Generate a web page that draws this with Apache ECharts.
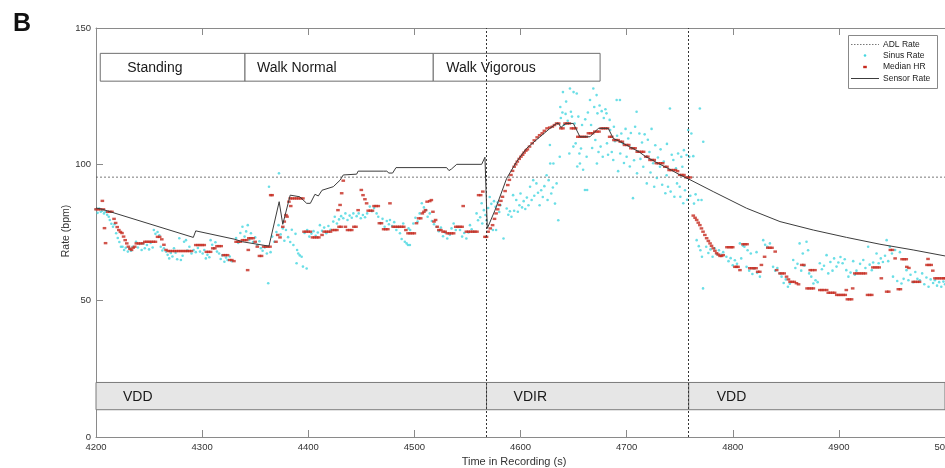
<!DOCTYPE html>
<html><head><meta charset="utf-8">
<script src="https://cdn.jsdelivr.net/npm/echarts@6/dist/echarts.min.js"></script>
<style>html,body{margin:0;padding:0;background:#fff}#c{width:945px;height:468px}</style>
</head><body><div id="c"></div>
<script>
// ---------- DATA ----------
const sensorRate = [[4200,84],[4206,83.5],[4291.7,73.2],[4294,75.6],[4331,72.5],[4338,71.6],[4363,70.0],[4372.6,86.3],[4376,78],[4383,88.7],[4392,88.1],[4398.5,85.7],[4402,85.7],[4406.3,89],[4409.5,88.4],[4413,90.5],[4423.6,91.8],[4430,94.2],[4433,96.1],[4445.6,96.4],[4447,97.5],[4470.7,97.5],[4472.5,96.8],[4474,97.5],[4476,96.8],[4477.5,97.5],[4479.5,96.8],[4482.7,98.8],[4530.4,98.8],[4532.6,97.7],[4535,98.3],[4539.9,100],[4563.4,100],[4566.5,102.6],[4568.7,76.5],[4576,83.2],[4587,94.9],[4596.4,101],[4605.8,105.9],[4618.4,110.1],[4627.8,113.2],[4634,115],[4636,115],[4638,113.5],[4641,114.5],[4643,115],[4649.8,115],[4656,110.1],[4665.5,110.1],[4673.3,113.2],[4682.7,113.2],[4687.4,109.5],[4694,108.3],[4700,107],[4706,105.8],[4712,104.5],[4718,102.8],[4724,101.6],[4730,100.3],[4736,99.1],[4742,97.9],[4750.3,96.1],[4758.5,94.6],[4781.6,90],[4813,83.9],[4844.5,79],[4875.9,75.9],[4907.3,73.2],[4938.7,70.7],[4970,68.6],[5000,66.4]];

const sinusRate = [[4200,83.5],[4201.5,82.2],[4203,83.8],[4204.5,82.6],[4206,83],[4207.5,82],[4209,82.6],[4210.5,81.5],[4212,80.8],[4213,79.6],[4214.5,78.2],[4216,77.1],[4217.5,78],[4219,74.7],[4220.5,73],[4222,71.5],[4223.5,69.8],[4225,69.8],[4226.5,68.6],[4228,69.4],[4230,68],[4231.5,69.2],[4233,68.3],[4234.5,69.8],[4237.7,71.6],[4239.5,69.5],[4241,70.8],[4243,68.6],[4244.5,71],[4246,69.2],[4248,70.4],[4250,68.8],[4251.5,71.2],[4253.4,69.5],[4254.5,75.9],[4256,74.5],[4258,75.2],[4259.7,74],[4261,69.8],[4262.5,68.4],[4264,69.2],[4266,68],[4267.5,66.8],[4269,65.5],[4270.5,67.5],[4272,66.2],[4273.5,69.2],[4275,67.6],[4276.5,65.2],[4278.5,72.9],[4280,64.9],[4281.6,66.5],[4283,71.6],[4284.8,72.2],[4286,68.4],[4288,69.8],[4290,67.3],[4292,68.6],[4294,67.8],[4296,69.3],[4298,68],[4300.5,67.3],[4302,68.6],[4303.5,65.5],[4305,66.8],[4306.8,65.9],[4308,72.2],[4309.5,70.5],[4311,69.2],[4312.5,71.4],[4314,68],[4316,67.3],[4317.5,65.3],[4319,66.6],[4321,64.3],[4322.5,65.8],[4324,64.9],[4326,66.2],[4328,64.5],[4332,73],[4334,71.2],[4336,74.8],[4338,77.1],[4340,73.5],[4341.5,75.4],[4343,77.7],[4344.5,72.3],[4346,74.7],[4348,71.5],[4350,73.2],[4352,70.4],[4354,71.8],[4355.4,69.2],[4357,68.3],[4359,69.5],[4361,67.3],[4362.3,56.4],[4363,91.8],[4364.5,67.8],[4366,73.5],[4368,71.6],[4370,75.2],[4372,77.7],[4372.4,96.7],[4374,74.3],[4376,76.5],[4377.5,72],[4379,75.9],[4381,73.3],[4383,71.5],[4384.5,76],[4386,70.4],[4388,74.5],[4389,63.7],[4389.5,68.6],[4390.6,67.3],[4392,66.6],[4393.8,66.1],[4395,62.5],[4396.5,74.8],[4398.5,61.8],[4399,75.9],[4401,73.5],[4403,74.6],[4405,75.5],[4407,73.8],[4409,75],[4411,77.7],[4413,75.6],[4415,76.8],[4417,74.7],[4419,77.4],[4421,76],[4423.6,79],[4425,80.8],[4427,78.3],[4429,79.8],[4431,81],[4433,80.2],[4435,82],[4437,79.6],[4439,81.2],[4441,80.4],[4442.5,82],[4445.6,81],[4447.5,82],[4449.5,80.2],[4451.5,81.4],[4453.5,80.6],[4455.5,82],[4458,84.5],[4460,82.8],[4462,84],[4464.4,82],[4466,80.8],[4468,78.5],[4470,80],[4472,77.1],[4474,79.2],[4476,78],[4477,79.6],[4479,77.4],[4481,78.8],[4483,75.9],[4485,77],[4486.4,74.7],[4488,72.6],[4489.5,78.3],[4491,71.6],[4492.7,71],[4494,70.4],[4494.5,76.5],[4495.8,70.4],[4496,75.9],[4499,78.3],[4501,80.4],[4503,79],[4505,82],[4507,85.7],[4509,84.2],[4511,83.2],[4512.5,80.8],[4514.5,82],[4516.5,79.2],[4518.5,78],[4521,77.1],[4523,75.5],[4525,76.8],[4527,73.6],[4529,75],[4531,72.8],[4533.5,74.2],[4535,76.5],[4537,78.3],[4539,75.9],[4541,77],[4543,75.9],[4545,73.5],[4547,74.8],[4549,72.8],[4551,75],[4552.4,77.7],[4554,76.2],[4556,75.3],[4558.6,82],[4560,79.5],[4562,80.6],[4563.4,85.7],[4564,78.3],[4565.5,83.2],[4567,81.4],[4568,79.5],[4569.5,84],[4571,88],[4572.5,85.5],[4574,75.9],[4575,86.5],[4576.5,84.4],[4577,75.9],[4578.5,86],[4580,82.5],[4581,85],[4584,72.8],[4587,83.8],[4588.5,81.5],[4590,82.8],[4591.5,80.8],[4593,88.7],[4594,83],[4596,86.9],[4597.5,82.6],[4599,85],[4600,89.3],[4601.5,84.2],[4603,86.5],[4604.5,83.6],[4606,87.8],[4607.5,85],[4609,91.8],[4610.5,86.9],[4612,94.2],[4613,88.5],[4615,93],[4616.5,89.6],[4618,85],[4619.5,90.5],[4621,88],[4622.5,92],[4624.6,96],[4625.5,86.9],[4626.5,94.2],[4627.7,107.1],[4628,100.3],[4629,89.3],[4630.5,91.5],[4631,100.3],[4632.5,85.6],[4634,93],[4635.6,79.5],[4637,102.8],[4637.5,121],[4638,117],[4639.5,119],[4640,126.5],[4641,114.4],[4642.5,118.5],[4643,123],[4644.5,116],[4646.6,127.8],[4646,104],[4647.5,119.3],[4648.5,117.5],[4649.8,106.5],[4650,126.5],[4651,115],[4652,107.7],[4653,126],[4653.5,99.2],[4654.5,117.5],[4655.5,104],[4656,100.3],[4657,105.8],[4658,114.4],[4659,98],[4660.7,90.6],[4661,116.5],[4662.3,102.8],[4662.8,90.6],[4663.5,119],[4665.5,123.6],[4666.5,114.4],[4667.5,106],[4668.6,127.8],[4669.5,121],[4670.5,108.9],[4671.7,125.4],[4672,100.3],[4672.5,118.7],[4673.5,104.5],[4674.5,121.6],[4675.5,106.5],[4676.5,119.5],[4677.5,102.8],[4678.5,117],[4680,120.2],[4681,118.7],[4681.5,107.7],[4682.5,103.5],[4684,116.3],[4684.5,112.6],[4686,104.5],[4687.4,101.6],[4688,113.8],[4689,108.5],[4690.6,123.6],[4691,110.5],[4692,97.5],[4693.7,123.6],[4694,104],[4695,111.3],[4696.5,107.7],[4697.5,100.5],[4699,113],[4700,102.8],[4701.5,109.5],[4703,99.2],[4704,111.5],[4705,106],[4706,87.6],[4707,101.5],[4708,113.8],[4709.4,119.3],[4709.8,96.7],[4710.5,104.8],[4712,111.3],[4713,102],[4714.5,108],[4715.7,99.1],[4717,111],[4718.8,102.8],[4719,93],[4720,109],[4721.5,104.5],[4722.5,97],[4723.5,113],[4725,100.4],[4726,91.8],[4727,107],[4728.5,95],[4729.5,102.5],[4731.4,99.1],[4732,105.5],[4733.5,92.5],[4735,101],[4736.5,89.4],[4737.7,96],[4738,107.5],[4739,91.8],[4740.8,120.5],[4741.5,90],[4742.5,103.5],[4744,101.6],[4745,88.1],[4746.5,98.5],[4747.5,93],[4748.5,104],[4750,91.8],[4750.6,88.1],[4751.5,102.8],[4752.5,99.1],[4753.4,85.7],[4754,105.2],[4755,90.5],[4756.5,103.4],[4757,87],[4758,112.6],[4759,102.8],[4760,88.5],[4761,111.3],[4762.8,103],[4763.5,85.6],[4765,89],[4766,72.2],[4767.5,86.9],[4768,70],[4769,120.5],[4769.5,68.5],[4770.6,86.9],[4771,66.1],[4772,54.5],[4772.2,108.3],[4775,69.8],[4777,67.5],[4779,68.8],[4781,66.1],[4783,69.2],[4785,67],[4787,68.5],[4789,66.8],[4791,67.8],[4794,66.1],[4796,64.5],[4798,65.6],[4800,63],[4802,64.8],[4804,63.5],[4806.7,71],[4808,65.5],[4809.5,70.2],[4811,69.8],[4813,62.4],[4814,68.5],[4815.5,61],[4817,67.3],[4818.5,59.8],[4820,61.8],[4822.4,67.8],[4823,60.2],[4825.6,58.8],[4828.7,72.2],[4830.5,70.5],[4832.5,69.8],[4835,71],[4838,62.4],[4840,61],[4842,62],[4844.4,60],[4846,58.8],[4848,56.5],[4850,57.8],[4852,55.1],[4853.8,56.2],[4857,64.9],[4859,62],[4861,63.5],[4863,71],[4864.5,61],[4866,67.3],[4867.5,62.8],[4869.5,71.6],[4871,68.5],[4872,60],[4874,58.8],[4876,56.3],[4878,57.5],[4880,56.8],[4882,63.7],[4884,61.5],[4886,62.8],[4888.4,66.7],[4890,60],[4892,64.2],[4894,61],[4895.5,65.5],[4897.8,62.5],[4899.5,64],[4901.5,66],[4903.5,63.7],[4905.5,65.2],[4907,61.2],[4909,58.8],[4911,60.3],[4913.5,64.5],[4915,59.5],[4916.6,61],[4920,63.5],[4923,64.9],[4925,62],[4927.6,69.8],[4929,63.2],[4931,61.2],[4932.3,64],[4935.5,67.3],[4937.5,63.7],[4939.5,65.5],[4941.5,64.2],[4943.5,66.5],[4945,72.2],[4946.5,64.5],[4948,69.8],[4950,67.3],[4951,58.8],[4953,68.6],[4955,57.2],[4957.5,67.8],[4959,56.3],[4961,58],[4963.7,61.2],[4965.5,57.5],[4967.5,59.5],[4970,56.8],[4972,60.5],[4974,58],[4976.3,57.5],[4978.5,60],[4980.5,56],[4982.5,58.5],[4984.5,55.1],[4986.5,57.8],[4988.8,56.5],[4990.5,57.5],[4992.5,55.5],[4994.5,56.8],[4996.5,55.1],[4998.5,57],[5000,56]];

const medianHR = [[4200,83.5],[4202,83.5],[4204,83.5],[4206,86.6],[4207,83.5],[4208,76.6],[4209,71.1],[4211,82.6],[4213,82.6],[4215,82.6],[4217,80],[4218.5,78.5],[4220,77],[4221.5,75.9],[4223,75.2],[4224.5,74.8],[4226,73.5],[4227.5,72.2],[4229,71],[4230.5,69.8],[4232,69],[4233.5,68.6],[4235,69.4],[4236.5,69.8],[4238,71],[4240,71],[4242,71],[4244,71],[4246,71.6],[4248,71.6],[4250,71.6],[4252,71.6],[4254,71.6],[4256,71.6],[4258,73.4],[4260,73.4],[4262,72.5],[4264,70.5],[4266,68.6],[4268,68.2],[4270,68.2],[4272,68.2],[4274,68.2],[4276,68.2],[4278,68.2],[4280,68.2],[4282,68.2],[4284,68.2],[4286,68.2],[4288,68.2],[4290,68.2],[4294,70.4],[4296,70.4],[4298,70.4],[4300,70.4],[4302,70.4],[4304,67.9],[4306,67.9],[4308,67.9],[4310,69.2],[4312,69.2],[4314,70],[4316,70],[4318,70],[4320,66.7],[4322,66.7],[4324,66.7],[4326,64.9],[4328,64.9],[4330,64.5],[4332,71.6],[4334,71.6],[4336,71.6],[4338,72.2],[4340,72.2],[4342,72.2],[4342.9,61.2],[4343.5,68.6],[4344,72.9],[4346,72.9],[4348,72.9],[4350,71.6],[4352,69.8],[4354,66.4],[4356,66.4],[4358,69.8],[4360,69.8],[4362,69.8],[4364,69.8],[4364.6,88.7],[4366,88.7],[4369.6,71.6],[4371.2,74.1],[4373.4,73.2],[4376,77.1],[4377.4,79],[4379,81.4],[4380,80.8],[4381.8,86.3],[4383,87.5],[4383.5,84.7],[4385,87.5],[4387,87.5],[4389,87.5],[4391,87.5],[4393,87.5],[4395,87.5],[4396,75.3],[4398,75.3],[4400,75.3],[4402,75.3],[4404,73.2],[4406,73.2],[4408,73.2],[4410,73.2],[4413,74.1],[4415,75.3],[4417,75.3],[4419,75.3],[4421,75.3],[4423,75.9],[4425,75.9],[4427,75.9],[4428,83.2],[4429,77.1],[4430,85.1],[4431,77.1],[4431.5,89.4],[4433,94],[4435,77.1],[4437,75.9],[4439,75.9],[4441,75.9],[4443,77.1],[4445,77.1],[4447,83.2],[4450,90.6],[4451.6,88.7],[4453.4,87.2],[4455,85.7],[4456.5,83],[4458.5,83],[4460.5,83],[4462,84.7],[4464,84.7],[4466,84.7],[4467,78.4],[4469,78.4],[4471,76.2],[4473,76.2],[4475,76.2],[4477,85.7],[4480,77.1],[4482,77.1],[4484,77.1],[4486,77.1],[4488,77.1],[4490,77.1],[4492,75.9],[4494,74.7],[4496,74.7],[4498,74.7],[4500,74.7],[4502,78.4],[4504,80.2],[4506,80.2],[4507.5,82],[4509,82.6],[4510.5,83.2],[4512,86.3],[4514.5,86.5],[4516,86.9],[4517.5,82.6],[4518.5,79],[4520,79.6],[4521.5,77.1],[4523,75.9],[4525,75.9],[4527,75.3],[4529,75.3],[4531,74.7],[4533,74.7],[4535,74.7],[4537,74.7],[4539,77.1],[4541,77.1],[4543,77.1],[4545,77.1],[4546,84.7],[4549,75.3],[4551,75.3],[4553,75.3],[4555,75.3],[4557,75.3],[4559,75.3],[4560.5,88.7],[4562.5,88.7],[4564.5,90],[4566.5,73.4],[4568,73.4],[4569.5,75.3],[4571.5,76.5],[4573.7,77.7],[4575.5,80],[4577,82],[4578.5,83.5],[4580,85.1],[4581.5,86.6],[4583,88.1],[4585.5,90.2],[4588,92.4],[4589.5,94.3],[4591,96.1],[4592.5,97.6],[4594,99.1],[4595.5,100],[4597,101],[4598.8,102],[4600.4,102.8],[4602,103.5],[4603.4,104.3],[4605,105],[4606.5,105.5],[4608.5,106.5],[4611,107.7],[4613,108.8],[4615.7,109.9],[4618,110.7],[4620.5,111.4],[4622.5,112.3],[4625,113.2],[4627.5,113.5],[4630,113.8],[4632,114.4],[4634,115],[4636,115],[4638,113.2],[4640,113.2],[4642,115],[4644,115],[4646,115],[4648,113.2],[4650,113.2],[4652,113.2],[4654,110.1],[4656,110.1],[4658,110.1],[4660,110.1],[4662,110.1],[4664,111.4],[4666,111.4],[4668,111.4],[4670,112],[4672,112],[4674,112],[4676,113.2],[4678,113.2],[4680,113.2],[4682,113.2],[4684,110.1],[4686,110.1],[4688,108.9],[4690,108.9],[4692,108.9],[4694,108.3],[4696,108.3],[4698,107.1],[4700,107.1],[4702,107.1],[4704,105.9],[4706,105.9],[4708,105.9],[4710,104.6],[4712,104.6],[4714,104.6],[4716,104.6],[4718,102.8],[4720,102.8],[4722,101.6],[4724,101.6],[4726,101.6],[4728,100.4],[4730,100.4],[4732,100.4],[4734,100.4],[4736,99.1],[4738,99.1],[4740,97.9],[4742,97.9],[4744,97.9],[4746,97.9],[4748,97.5],[4750,96.1],[4752,96.1],[4754,96.1],[4756,95.2],[4758,95.2],[4760,95.2],[4762.8,81.2],[4764.5,80.4],[4766,79.6],[4767.5,78.6],[4769,77.7],[4770.5,76.5],[4772,75.3],[4773.7,74.1],[4775.4,72.9],[4777,71.9],[4778.6,71],[4780,70.1],[4781.6,69.2],[4783.2,68.3],[4784.8,67.4],[4786.4,66.9],[4788,66.4],[4789.5,66.4],[4791,66.7],[4794.5,69.6],[4796.5,69.6],[4798.5,69.6],[4800,69.6],[4802,62.4],[4803.5,62.4],[4805,62.4],[4806.8,61.2],[4809.6,70.7],[4811.5,70.7],[4813.5,70.7],[4816,61.9],[4818,61.9],[4820,61.9],[4822,61.9],[4823.5,60.6],[4825.5,60.6],[4827,63.1],[4830,66.1],[4833,69.4],[4835,69.4],[4837,69.4],[4840,68],[4841.4,61.2],[4844.5,60],[4846.5,60],[4848.5,60],[4850.7,58.8],[4852.5,57.8],[4854,56.9],[4856,56.9],[4858,56.9],[4860,56.4],[4862,56],[4865,63.1],[4867,63.1],[4870,54.5],[4872,54.5],[4873,61.2],[4874,54.5],[4875,61.2],[4876,54.5],[4877.5,61.2],[4882,53.9],[4884,53.9],[4886,53.9],[4888.5,53.9],[4890,52.9],[4892,52.9],[4894,52.9],[4896,52.9],[4898,52.1],[4900,52.1],[4902,52.1],[4904,52.1],[4906,52.1],[4907,53.9],[4908,50.5],[4910,50.5],[4912,50.5],[4913,54.5],[4915,60],[4917,60],[4919,60],[4921,60],[4923,60],[4925,60],[4927,52.1],[4929,52.1],[4931,52.1],[4932,62.2],[4934,62.2],[4936,62.2],[4938,62.2],[4940,58.2],[4945,53.3],[4947,53.3],[4948.5,68.6],[4950.5,68.6],[4953,65.5],[4956,54.2],[4958,54.2],[4959.5,65.2],[4961.5,65.2],[4963.5,65.2],[4964,62.4],[4966,62],[4970,56.9],[4972,56.9],[4974,56.9],[4976,56.9],[4983,63.1],[4984,65.3],[4985,63.1],[4987,63.1],[4988.5,61],[4990.5,58.2],[4992.5,58.2],[4994.5,58.2],[4996.5,58.2],[4998.5,58.2],[5000,58.2]];

const adlRate = 95.3;
const activityNames = ['Standing', 'Walk Normal', 'Walk Vigorous'];
const activityBounds = [4204, 4340.4, 4517.8, 4675];
const activityBand = [130.5, 140.7];
const modeNames = ['VDD', 'VDIR', 'VDD'];
const modeBounds = [4200, 4568, 4758.5, 5000];
const modeBand = [10, 20];
const modeSwitchTimes = [4568, 4758.5];
const xRange = [4200, 5000], xStep = 100;
const yRange = [0, 150], yStep = 50;

// ---------- STYLE ----------
const FONT = '"Liberation Sans", Arial, Helvetica, sans-serif';
const CYAN = '#45d6e0', RED = '#c62a1f', AXIS = '#8a8a8a';

function boxSeries(name, names, bounds, band, fill, stroke, insets) {
  return {
    type: 'custom', name, silent: true, z: 1,
    data: names.map((n, i) => [bounds[i], bounds[i + 1]]),
    encode: { x: [0, 1] },
    renderItem(params, api) {
      const i = params.dataIndex;
      const p0 = api.coord([api.value(0), band[1]]);
      const p1 = api.coord([api.value(1), band[0]]);
      return {
        type: 'group',
        children: [
          { type: 'rect', shape: { x: p0[0], y: p0[1], width: p1[0] - p0[0], height: p1[1] - p0[1] },
            style: { fill, stroke, lineWidth: 1 } },
          { type: 'text', style: { text: names[i], x: p0[0] + insets[i], y: (p0[1] + p1[1]) / 2 + 1,
            fill: '#1a1a1a', font: '14px ' + FONT, verticalAlign: 'middle', align: 'left' } }
        ]
      };
    }
  };
}

const plainNum = v => String(v);
const chart = echarts.init(document.getElementById('c'), null, { renderer: 'canvas' });
chart.setOption({
  animation: false,
  backgroundColor: '#fff',
  grid: { left: 96, top: 28, right: 0, bottom: 31, containLabel: false, outerBoundsMode: 'none' },
  xAxis: [{
    type: 'value', min: xRange[0], max: xRange[1], interval: xStep,
    axisLine: { show: true, lineStyle: { color: AXIS, width: 1 } },
    axisTick: { show: true, inside: true, length: 7, lineStyle: { color: AXIS } },
    axisLabel: { color: '#333', fontSize: 9.5, fontFamily: FONT, margin: 5, formatter: plainNum, showMaxLabel: true },
    splitLine: { show: false }
  }, {
    type: 'value', position: 'top', min: xRange[0], max: xRange[1], interval: xStep,
    axisLine: { show: true, onZero: false, lineStyle: { color: AXIS, width: 1 } },
    axisTick: { show: true, inside: true, length: 7, lineStyle: { color: AXIS } },
    axisLabel: { show: false }, splitLine: { show: false }
  }],
  yAxis: {
    type: 'value', min: yRange[0], max: yRange[1], interval: yStep,
    axisLine: { show: true, lineStyle: { color: AXIS, width: 1 } },
    axisTick: { show: true, inside: true, length: 7, lineStyle: { color: AXIS } },
    axisLabel: { color: '#333', fontSize: 9.5, fontFamily: FONT, margin: 5, formatter: plainNum },
    splitLine: { show: false }
  },
  series: [
    boxSeries('activity', activityNames, activityBounds, activityBand, '#ffffff', '#6e6e6e', [27, 12, 13]),
    boxSeries('mode', modeNames, modeBounds, modeBand, '#e6e6e6', '#7a7a7a', [27, 27, 28]),
    {
      name: 'ADL Rate', type: 'line', symbol: 'none', z: 2,
      data: [[xRange[0], adlRate], [xRange[1], adlRate]],
      lineStyle: { color: '#555', width: 0.8, type: [2, 2] },
      markLine: {
        silent: true, symbol: 'none', label: { show: false },
        lineStyle: { color: '#333', width: 1, type: [2, 2] },
        data: modeSwitchTimes.map(t => ({ xAxis: t }))
      }
    },
    {
      name: 'Sinus Rate', type: 'scatter', z: 3, symbol: 'circle', symbolSize: 2.6,
      itemStyle: { color: CYAN }, data: sinusRate
    },
    {
      name: 'Median HR', type: 'scatter', z: 4, symbol: 'rect', symbolSize: [3.6, 2.4],
      itemStyle: { color: RED }, data: medianHR
    },
    {
      name: 'Sensor Rate', type: 'line', symbol: 'none', z: 5,
      lineStyle: { color: '#3c3c3c', width: 1 }, data: sensorRate
    }
  ],
  graphic: [
    { type: 'text', left: 13, top: 12, style: { text: 'B', font: 'bold 25px ' + FONT, fill: '#111' } },
    { type: 'text', x: 514, y: 462, style: { text: 'Time in Recording (s)', font: '11px ' + FONT, fill: '#333', align: 'center', verticalAlign: 'middle' } },
    { type: 'text', x: 66, y: 231, rotation: Math.PI / 2, style: { text: 'Rate (bpm)', font: '10.5px ' + FONT, fill: '#333', align: 'center', verticalAlign: 'middle' } },
    { type: 'rect', z: 100, shape: { x: 848.5, y: 35.5, width: 89, height: 53 }, style: { fill: '#fff', stroke: '#888', lineWidth: 1 } },
    { type: 'line', z: 101, shape: { x1: 851, y1: 44.5, x2: 879, y2: 44.5 }, style: { stroke: '#555', lineWidth: 0.8, lineDash: [1.5, 1.5] } },
    { type: 'circle', z: 101, shape: { cx: 865, cy: 55.5, r: 1.3 }, style: { fill: CYAN } },
    { type: 'rect', z: 101, shape: { x: 863.2, y: 65.8, width: 3.6, height: 2.4 }, style: { fill: RED } },
    { type: 'line', z: 101, shape: { x1: 851, y1: 78.5, x2: 879, y2: 78.5 }, style: { stroke: '#3c3c3c', lineWidth: 1 } },
    { type: 'text', z: 101, x: 883, y: 44.5, style: { text: 'ADL Rate', font: '8.5px ' + FONT, fill: '#222', verticalAlign: 'middle' } },
    { type: 'text', z: 101, x: 883, y: 55.5, style: { text: 'Sinus Rate', font: '8.5px ' + FONT, fill: '#222', verticalAlign: 'middle' } },
    { type: 'text', z: 101, x: 883, y: 67, style: { text: 'Median HR', font: '8.5px ' + FONT, fill: '#222', verticalAlign: 'middle' } },
    { type: 'text', z: 101, x: 883, y: 78.5, style: { text: 'Sensor Rate', font: '8.5px ' + FONT, fill: '#222', verticalAlign: 'middle' } }
  ]
});
</script>
</body></html>
